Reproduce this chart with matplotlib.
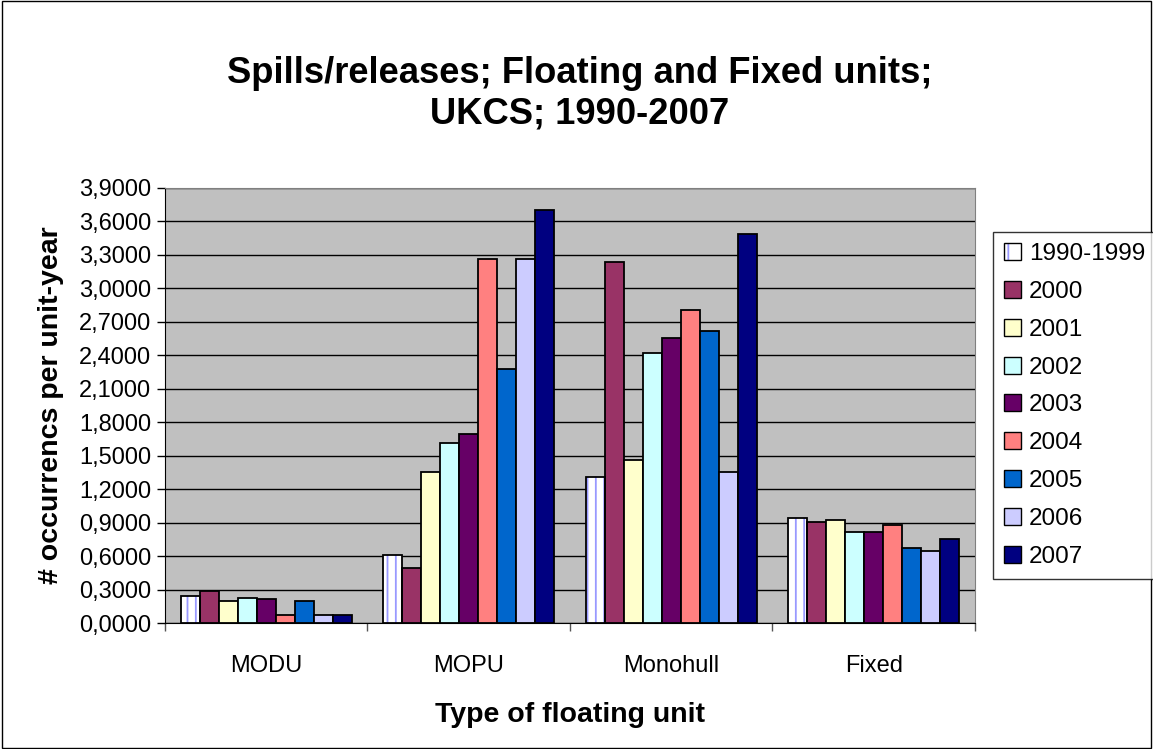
import matplotlib
matplotlib.use("Agg")
import matplotlib.pyplot as plt
from matplotlib.patches import Patch, Rectangle
from matplotlib.legend_handler import HandlerTuple
from matplotlib.ticker import FixedLocator, FuncFormatter
import numpy as np

plt.rcParams['font.family'] = ['Liberation Sans', 'DejaVu Sans']

categories = ["MODU", "MOPU", "Monohull", "Fixed"]
series = ["1990-1999", "2000", "2001", "2002", "2003", "2004", "2005", "2006", "2007"]
values = {
    "1990-1999": [0.245, 0.611, 1.313, 0.940],
    "2000":      [0.290, 0.492, 3.237, 0.910],
    "2001":      [0.197, 1.357, 1.462, 0.925],
    "2002":      [0.230, 1.611, 2.426, 0.815],
    "2003":      [0.215, 1.700, 2.557, 0.815],
    "2004":      [0.074, 3.268, 2.805, 0.880],
    "2005":      [0.200, 2.277, 2.617, 0.677],
    "2006":      [0.072, 3.268, 1.357, 0.647],
    "2007":      [0.074, 3.700, 3.490, 0.755],
}
colors = ["#FFFFFF", "#993366", "#FFFFCC", "#CCFFFF", "#660066",
          "#FF8080", "#0066CC", "#CCCCFF", "#000080"]
yticks = [0.0, 0.3, 0.6, 0.9, 1.2, 1.5, 1.8, 2.1, 2.4, 2.7, 3.0, 3.3, 3.6, 3.9]

fig = plt.figure(figsize=(11.53, 7.49), dpi=100)
fig.patches.append(Rectangle((0.0015, 0.002), 0.997, 0.996, transform=fig.transFigure,
                             fill=False, edgecolor='black', linewidth=1.0))
ax = fig.add_axes([0.1431, 0.1678, 0.7025, 0.5812])
ax.set_facecolor('#C0C0C0')

n = len(series)
group_w = 0.845
bw = group_w / n
x = np.arange(len(categories))
plt.rcParams['hatch.linewidth'] = 1.3
for i, s in enumerate(series):
    pos = x - group_w / 2 + bw * (i + 0.5)
    if i == 0:
        ax.bar(pos, values[s], width=bw, color='white', edgecolor='#9999FF',
               hatch='||', linewidth=0, zorder=3)
        ax.bar(pos, values[s], width=bw, facecolor='none', edgecolor='black',
               linewidth=1.3, zorder=4)
    else:
        ax.bar(pos, values[s], width=bw, color=colors[i], edgecolor='black',
               linewidth=1.3, zorder=3)

ax.set_xlim(-0.5, len(categories) - 0.5)
ax.set_ylim(0, 3.9)
ax.yaxis.set_major_locator(FixedLocator(yticks))
ax.yaxis.set_major_formatter(FuncFormatter(lambda v, p: f"{v:.4f}".replace('.', ',')))
ax.grid(axis='y', color='black', linewidth=1.0, zorder=1)
ax.set_axisbelow(True)

ax.set_xticks(x)
ax.set_xticklabels(categories)
ax.set_xticks(np.arange(len(categories) + 1) - 0.5, minor=True)
ax.tick_params(axis='x', which='major', length=0, pad=23, labelsize=17)
ax.tick_params(axis='x', which='minor', length=6, width=1, color='#555555', direction='out')
ax.tick_params(axis='y', which='major', length=6, width=1, direction='out', labelsize=17, pad=4)

for sp in ['top', 'right']:
    ax.spines[sp].set_color('#808080')
ax.spines['left'].set_color('black')
ax.spines['bottom'].set_color('black')

ax.set_xlabel("Type of floating unit", fontsize=20.5, fontweight='bold', labelpad=18)
ax.set_ylabel("# occurrencs per unit-year", fontsize=20.5, fontweight='bold', labelpad=11)

fig.text(0.503, 0.8745, "Spills/releases; Floating and Fixed units;\nUKCS; 1990-2007",
         ha='center', va='center', fontsize=26.2, fontweight='bold', linespacing=1.22)

handles = []
for i, s in enumerate(series):
    if i == 0:
        handles.append((Patch(facecolor='white', edgecolor='#9999FF', hatch='|', linewidth=0),
                        Patch(facecolor='none', edgecolor='black')))
    else:
        handles.append(Patch(facecolor=colors[i], edgecolor='black'))
leg = fig.legend(handles=handles, labels=series, loc='upper left',
                 bbox_to_anchor=(0.861, 0.690),
                 handler_map={tuple: HandlerTuple(ndivide=1, pad=0)},
                 borderaxespad=0, fontsize=17.5, frameon=True, fancybox=False,
                 edgecolor='black', handlelength=0.7, handleheight=0.7,
                 handletextpad=0.35, labelspacing=0.65, borderpad=0.45)
leg.get_frame().set_linewidth(1.0)

fig.savefig("out.png", dpi=100)
